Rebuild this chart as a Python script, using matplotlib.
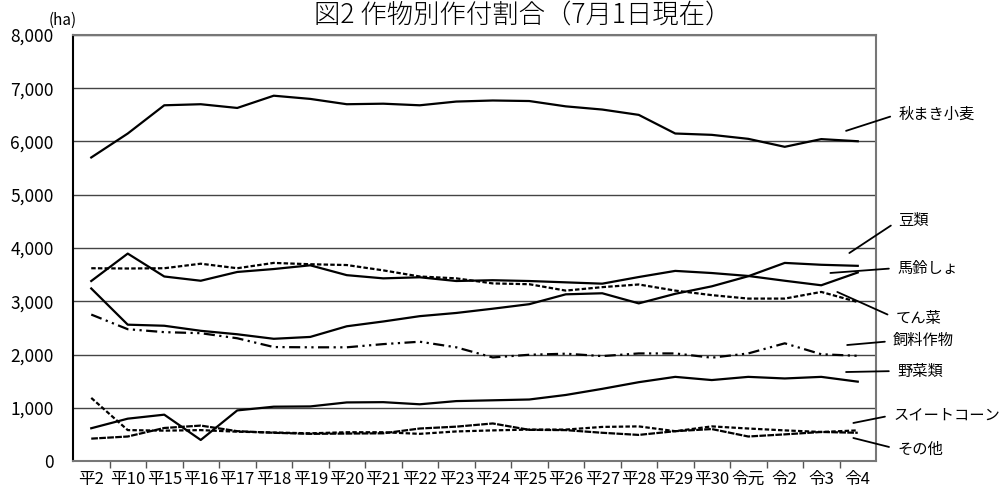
import matplotlib
matplotlib.use("Agg")
import matplotlib.pyplot as plt

plt.rcParams['font.family'] = ['Noto Sans CJK JP', 'DejaVu Sans']

# 年次
years = ["平2", "平10", "平15", "平16", "平17", "平18", "平19", "平20", "平21", "平22", "平23",
         "平24", "平25", "平26", "平27", "平28", "平29", "平30", "令元", "令2", "令3", "令4"]

# 作付面積 (ha)
wheat = [5700, 6150, 6680, 6700, 6630, 6860, 6800, 6700, 6710, 6680, 6750,
         6770, 6760, 6660, 6600, 6500, 6150, 6125, 6050, 5900, 6045, 6005]
beans = [3240, 2560, 2540, 2445, 2380, 2295, 2330, 2530, 2620, 2720, 2780,
         2860, 2945, 3130, 3150, 2960, 3140, 3280, 3470, 3720, 3685, 3665]
potato = [3380, 3895, 3465, 3385, 3550, 3605, 3675, 3490, 3430, 3450, 3380,
          3395, 3380, 3355, 3330, 3455, 3570, 3530, 3475, 3385, 3300, 3540]
beet = [3620, 3615, 3620, 3705, 3620, 3720, 3695, 3680, 3580, 3465, 3430,
        3335, 3320, 3200, 3265, 3315, 3200, 3115, 3050, 3050, 3175, 2985]
feed = [2750, 2475, 2420, 2400, 2305, 2140, 2135, 2135, 2195, 2240, 2135,
        1945, 1995, 2015, 1970, 2020, 2020, 1940, 2020, 2210, 2005, 1975]
vegetables = [615, 795, 870, 395, 950, 1020, 1025, 1100, 1105, 1065, 1125,
              1140, 1155, 1240, 1355, 1480, 1580, 1520, 1580, 1550, 1580, 1490]
sweetcorn = [1185, 580, 570, 580, 550, 535, 520, 540, 540, 510, 555,
             575, 590, 590, 640, 650, 560, 650, 610, 575, 545, 575]
other = [420, 460, 620, 665, 560, 530, 510, 515, 520, 610, 645,
         705, 585, 580, 530, 490, 560, 600, 460, 500, 545, 530]

yticks = [0, 1000, 2000, 3000, 4000, 5000, 6000, 7000, 8000]

x = list(range(len(years)))

fig = plt.figure(figsize=(9.99, 4.9), dpi=100)
ax = fig.add_axes([73 / 999, 29 / 490, 803 / 999, 426 / 490])

ax.plot(x, wheat, color='black', lw=1.6, ls='-')
ax.plot(x, beans, color='black', lw=1.6, ls='-')
ax.plot(x, potato, color='black', lw=1.6, ls='-')
ax.plot(x, beet, color='black', lw=1.6, ls=(0, (2, 1)))
ax.plot(x, feed, color='black', lw=1.6, ls=(0, (5, 2, 1, 2, 1, 2)))
ax.plot(x, vegetables, color='black', lw=1.6, ls='-')
ax.plot(x, sweetcorn, color='black', lw=1.6, ls=(0, (2, 1)))
ax.plot(x, other, color='black', lw=1.6, ls=(0, (3, 0.6)))

ax.set_xlim(-0.5, len(years) - 0.5)
ax.set_ylim(0, 8000)
ax.set_yticks(yticks)
ax.set_yticklabels([f"{v:,}" for v in yticks])
ax.set_xticks(x)
ax.set_xticklabels(years)
ax.set_xticks([i + 0.5 for i in range(len(years) - 1)], minor=True)

ax.tick_params(axis='y', length=0, pad=14, labelsize=12.5)
ax.tick_params(axis='x', which='major', length=0, pad=7, labelsize=12)
ax.tick_params(axis='x', which='minor', length=5, width=1, color='#555555', direction='out')

ax.yaxis.grid(True, color='#444444', lw=1)
ax.set_axisbelow(True)

for side in ['top', 'right', 'bottom']:
    ax.spines[side].set_color('#777777')
    ax.spines[side].set_linewidth(1.5)
ax.spines['left'].set_color('black')
ax.spines['left'].set_linewidth(1.5)

# 凡例（引出し線）
labels = [
    ("秋まき小麦", (20.68, 6200), (22.11, 6516)),
    ("豆類", (20.77, 3906), (22.11, 4513)),
    ("馬鈴しょ", (20.25, 3531), (22.08, 3624)),
    ("てん菜", (20.44, 3174), (22.03, 2685)),
    ("飼料作物", (20.71, 2178), (21.97, 2254)),
    ("野菜類", (20.68, 1671), (22.08, 1690)),
    ("スイートコーン", (20.88, 714), (21.97, 864)),
    ("その他", (20.88, 432), (22.08, 225)),
]
for name, xy, xytext in labels:
    ax.annotate(name, xy=xy, xytext=xytext, fontsize=11, ha='left', va='center',
                annotation_clip=False,
                arrowprops=dict(arrowstyle='-', color='black', lw=1.3,
                                relpos=(0, 0.5), shrinkA=4, shrinkB=0))

fig.text(49 / 999, 1 - 20 / 490, "(ha)", fontsize=11, ha='left', va='center')
fig.text(523 / 999, 1 - 1 / 490, "図2 作物別作付割合（7月1日現在）", fontsize=19,
         fontweight='light', ha='center', va='top')

fig.savefig("out.png", dpi=100)
